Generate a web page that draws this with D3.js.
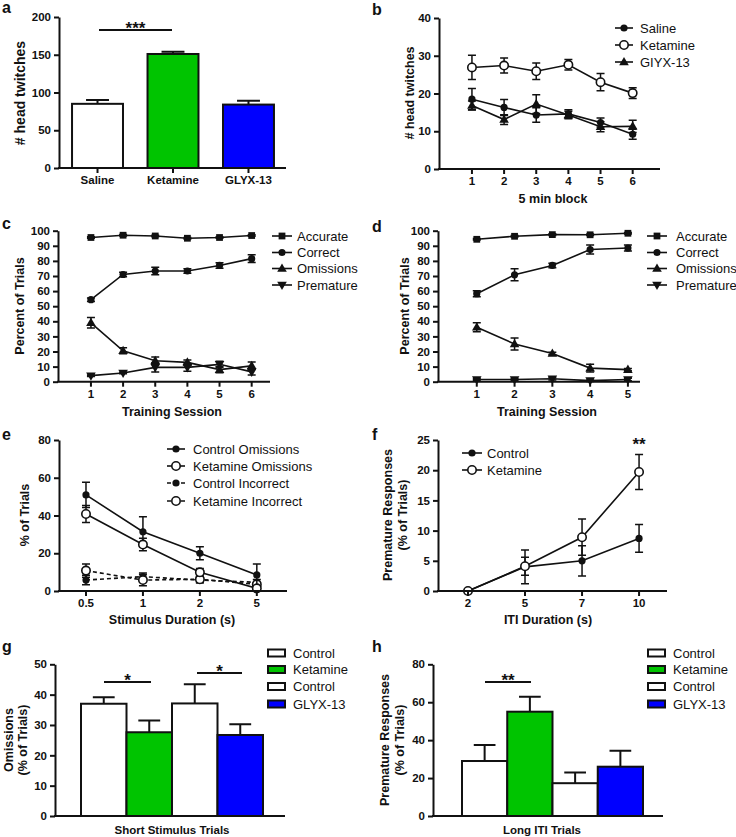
<!DOCTYPE html>
<html><head><meta charset="utf-8">
<script src="https://cdn.jsdelivr.net/npm/d3@7"></script>
<style>html,body{margin:0;padding:0;background:#fff;}svg{display:block;}</style>
</head><body>
<svg id="c" width="736" height="837"></svg>
<script>
// ---------- DATA ----------
// a
const aCategories = ["Saline", "Ketamine", "GLYX-13"];
const aValues = [85, 151, 84];
const aErrors = [5, 3, 5];
// b
const bBlocks = [1, 2, 3, 4, 5, 6];
const bLegend = ["Saline", "Ketamine", "GIYX-13"];
const bSaline = [18.5, 16.3, 14.3, 14.6, 12.3, 9.2];
const bSalineErr = [2.8, 2.1, 1.9, 1.1, 1.2, 1.3];
const bKetamine = [26.9, 27.4, 25.9, 27.6, 23.0, 20.1];
const bKetamineErr = [3.2, 2.0, 2.2, 1.4, 2.3, 1.4];
const bGlyx = [16.8, 13.1, 17.2, 14.3, 11.2, 11.3];
const bGlyxErr = [1.2, 1.3, 2.5, 1.0, 1.3, 1.6];
// c
const cSessions = [1, 2, 3, 4, 5, 6];
const cdLegend = ["Accurate", "Correct", "Omissions", "Premature"];
const cAccurate = [95.5, 97.0, 96.5, 95.0, 95.5, 96.8];
const cAccurateErr = [0.5, 0.5, 0.5, 0.5, 0.5, 0.5];
const cCorrect = [54.3, 71.0, 73.3, 73.3, 77.0, 81.5];
const cCorrectErr = [1.2, 1.5, 2.5, 1.5, 1.8, 2.5];
const cOmissions = [39.0, 20.5, 13.9, 12.8, 8.0, 10.5];
const cOmissionsErr = [3.5, 2.0, 2.5, 1.5, 2.0, 2.5];
const cPremature = [4.0, 5.8, 9.5, 9.5, 11.5, 6.5];
const cPrematureErr = [0.5, 0.5, 3.0, 2.5, 2.0, 2.0];
// d
const dSessions = [1, 2, 3, 4, 5];
const dAccurate = [94.3, 96.3, 97.4, 97.3, 98.3];
const dAccurateErr = [0.5, 0.5, 0.5, 0.5, 0.5];
const dCorrect = [58.3, 70.8, 77.0, 87.5, 88.5];
const dCorrectErr = [2.0, 4.0, 1.5, 3.0, 2.0];
const dOmissions = [36.0, 25.0, 18.7, 9.0, 8.0];
const dOmissionsErr = [3.0, 4.0, 0.8, 2.5, 0.8];
const dPremature = [1.5, 1.5, 2.0, 0.7, 1.5];
const dPrematureErr = [0.5, 0.5, 0.8, 0.5, 0.8];
// e
const eDurations = ["0.5", "1", "2", "5"];
const eLegend = ["Control Omissions", "Ketamine Omissions", "Control Incorrect", "Ketamine  Incorrect"];
const eCtrlOm = [50.9, 31.4, 20.0, 8.5];
const eCtrlOmErr = [6.7, 8.0, 3.5, 5.8];
const eKetOm = [40.8, 24.6, 9.9, 1.4];
const eKetOmErr = [4.5, 3.3, 2.0, 1.0];
const eCtrlInc = [5.8, 7.6, 5.8, 4.6];
const eCtrlIncErr = [2.5, 2.0, 1.5, 1.5];
const eKetInc = [10.8, 5.8, 6.2, 3.5];
const eKetIncErr = [3.5, 3.0, 1.5, 1.0];
// f
const fITI = ["2", "5", "7", "10"];
const fLegend = ["Control", "Ketamine"];
const fCtrl = [0, 4.0, 5.0, 8.7];
const fCtrlErr = [0, 2.8, 2.5, 2.3];
const fKet = [0, 4.1, 8.9, 19.7];
const fKetErr = [0, 1.5, 3.0, 2.9];
// g, h
const ghGroups = ["Control", "Ketamine", "Control", "GLYX-13"];
const gValues = [37.0, 27.6, 37.1, 26.7];
const gErrors = [2.1, 3.9, 6.3, 3.5];
const hValues = [29.0, 55.0, 17.3, 26.0];
const hErrors = [8.4, 7.9, 5.6, 8.4];

// ---------- STYLE ----------
const FONT = "'Liberation Sans', Arial, Helvetica, sans-serif";
const GREEN = "#00c400", BLUE = "#0000ff";
const svg = d3.select("#c").style("font-family", FONT);

function txt(x, y, s, o = {}) {
  const t = svg.append("text").attr("x", x).attr("y", y).text(s)
    .attr("font-size", o.size || 12).attr("font-weight", o.weight || "bold")
    .attr("text-anchor", o.anchor || "middle").attr("fill", "#111");
  if (o.rotate) t.attr("transform", `rotate(-90,${x},${y})`);
  if (o.dy) t.attr("dy", o.dy);
  return t;
}
function yAxis(y, x0, ticks) {
  const g = svg.append("g").attr("transform", `translate(${x0},0)`)
    .call(d3.axisLeft(y).tickValues(ticks).tickSize(5).tickSizeOuter(0).tickPadding(3));
  g.select(".domain").attr("stroke", "#111").attr("stroke-width", 2);
  g.selectAll(".tick line").attr("stroke", "#111").attr("stroke-width", 2);
  g.selectAll(".tick text").attr("font-family", FONT).attr("font-size", 11.5)
    .attr("font-weight", "bold").attr("fill", "#111");
}
function xAxisLine(x0, x1, yb) {
  svg.append("line").attr("x1", x0 - 1).attr("x2", x1).attr("y1", yb).attr("y2", yb)
    .attr("stroke", "#111").attr("stroke-width", 2);
}
function xTicks(x, vals, labels, yb, withLabels = true) {
  vals.forEach((v, i) => {
    svg.append("line").attr("x1", x(v)).attr("x2", x(v)).attr("y1", yb).attr("y2", yb + 5)
      .attr("stroke", "#111").attr("stroke-width", 2);
    if (withLabels) txt(x(v), yb + 16, labels[i], { size: 11.5 });
  });
}
const SYM = {
  circle: d3.symbolCircle, square: d3.symbolSquare, triangle: d3.symbolTriangle
};
function marker(g, cx, cy, kind) {
  if (kind === "fcircle") {
    g.append("circle").attr("cx", cx).attr("cy", cy).attr("r", 3.6).attr("fill", "#111");
  } else if (kind === "ocircle") {
    g.append("circle").attr("cx", cx).attr("cy", cy).attr("r", 4.2).attr("fill", "#fff")
      .attr("stroke", "#111").attr("stroke-width", 1.6);
  } else if (kind === "square") {
    g.append("path").attr("d", d3.symbol(d3.symbolSquare, 46)())
      .attr("transform", `translate(${cx},${cy})`).attr("fill", "#111");
  } else if (kind === "tup") {
    g.append("path").attr("d", d3.symbol(d3.symbolTriangle, 40)())
      .attr("transform", `translate(${cx},${cy + 0.5})`).attr("fill", "#111");
  } else if (kind === "tdown") {
    g.append("path").attr("d", d3.symbol(d3.symbolTriangle, 40)())
      .attr("transform", `translate(${cx},${cy - 0.5}) rotate(180)`).attr("fill", "#111");
  }
}
function series(x, y, xs, vals, errs, kind, dash) {
  const g = svg.append("g");
  const line = d3.line().x((d, i) => x(xs[i])).y(d => y(d));
  g.append("path").attr("d", line(vals)).attr("fill", "none").attr("stroke", "#111")
    .attr("stroke-width", 1.6).attr("stroke-dasharray", dash || null);
  vals.forEach((v, i) => {
    const e = errs[i]; if (!e) return;
    const cx = x(xs[i]);
    g.append("path").attr("d",
      `M${cx},${y(v - e)}V${y(v + e)}M${cx - 4},${y(v + e)}H${cx + 4}M${cx - 4},${y(v - e)}H${cx + 4}`)
      .attr("stroke", "#111").attr("stroke-width", 1.5).attr("fill", "none");
  });
  vals.forEach((v, i) => marker(g, x(xs[i]), y(v), kind));
}
function legendLines(x0, x1, tx, rows, labels, kinds, dashes) {
  labels.forEach((l, i) => {
    const g = svg.append("g");
    g.append("line").attr("x1", x0).attr("x2", x1).attr("y1", rows[i]).attr("y2", rows[i])
      .attr("stroke", "#111").attr("stroke-width", 1.6).attr("stroke-dasharray", dashes ? dashes[i] : null);
    marker(g, (x0 + x1) / 2, rows[i], kinds[i]);
    txt(tx, rows[i], l, { size: 13, weight: "normal", anchor: "start", dy: "0.35em" });
  });
}
function bars(x, y, cats, vals, errs, fills, capFrac) {
  vals.forEach((v, i) => {
    const bx = x(i), bw = x.bandwidth(), cx = bx + bw / 2, cw = bw * capFrac / 2;
    svg.append("path").attr("d", `M${cx},${y(v)}V${y(v + errs[i])}M${cx - cw},${y(v + errs[i])}H${cx + cw}`)
      .attr("stroke", "#111").attr("stroke-width", 2).attr("fill", "none");
    svg.append("rect").attr("x", bx).attr("y", y(v)).attr("width", bw).attr("height", y(0) - y(v))
      .attr("fill", fills[i]).attr("stroke", "#111").attr("stroke-width", 2);
  });
}
function sig(x1, x2, yl, stars, ys) {
  svg.append("line").attr("x1", x1).attr("x2", x2).attr("y1", yl).attr("y2", yl)
    .attr("stroke", "#111").attr("stroke-width", 2);
  txt((x1 + x2) / 2, ys, stars, { size: 17 });
}
function legendBoxes(bx, tx, rows, labels, fills) {
  labels.forEach((l, i) => {
    svg.append("rect").attr("x", bx).attr("y", rows[i] - 3.5).attr("width", 17).attr("height", 7)
      .attr("fill", fills[i]).attr("stroke", "#111").attr("stroke-width", 2);
    txt(tx, rows[i], l, { size: 13, weight: "normal", anchor: "start", dy: "0.35em" });
  });
}
const panel = (s, x, y) => txt(x, y, s, { size: 16, anchor: "start" });

// ---------- PANEL a ----------
{
  const y = d3.scaleLinear().domain([0, 200]).range([168, 17]);
  const x = d3.scaleBand().domain(d3.range(aCategories.length)).range([47.5, 298.5]).padding(0.325);
  bars(x, y, aCategories, aValues, aErrors, ["#fff", GREEN, BLUE], 0.45);
  yAxis(y, 59, [0, 50, 100, 150, 200]);
  xAxisLine(59, 286, 168);
  xTicks(i => x(i) + x.bandwidth() / 2, d3.range(3), aCategories, 168);
  txt(20, 93, "# head twitches", { size: 14, rotate: true, dy: "0.35em" });
  sig(99, 172, 30, "***", 34);
  panel("a", 2, 13);
}
// ---------- PANEL b ----------
{
  const y = d3.scaleLinear().domain([0, 40]).range([169, 18]);
  const x = d3.scaleLinear().domain([0, 6.85]).range([439.8, 660]);
  series(x, y, bBlocks, bSaline, bSalineErr, "fcircle");
  series(x, y, bBlocks, bGlyx, bGlyxErr, "tup");
  series(x, y, bBlocks, bKetamine, bKetamineErr, "ocircle");
  yAxis(y, 439, [0, 10, 20, 30, 40]);
  xAxisLine(439, 660, 169);
  xTicks(x, bBlocks, bBlocks.map(String), 169);
  txt(553, 199, "5 min block", { size: 12.5, dy: "0.35em" });
  txt(410, 93, "# head twitches", { size: 12.5, rotate: true, dy: "0.35em" });
  legendLines(615, 633, 640, [28, 45, 62], bLegend, ["fcircle", "ocircle", "tup"]);
  panel("b", 372, 15);
}
// ---------- PANEL c ----------
{
  const y = d3.scaleLinear().domain([0, 100]).range([381.7, 230.7]);
  const x = d3.scaleLinear().domain([0, 6.57]).range([58.8, 270]);
  series(x, y, cSessions, cAccurate, cAccurateErr, "square");
  series(x, y, cSessions, cCorrect, cCorrectErr, "fcircle");
  series(x, y, cSessions, cOmissions, cOmissionsErr, "tup");
  series(x, y, cSessions, cPremature, cPrematureErr, "tdown");
  yAxis(y, 58, d3.range(0, 101, 10));
  xAxisLine(58, 270, 381.7);
  xTicks(x, cSessions, cSessions.map(String), 381.7);
  txt(172, 412, "Training Session", { size: 12.5, dy: "0.35em" });
  txt(20, 306, "Percent of Trials", { size: 12.5, rotate: true, dy: "0.35em" });
  legendLines(272, 292, 297, [236, 252.5, 268.5, 285], cdLegend, ["square", "fcircle", "tup", "tdown"]);
  panel("c", 2, 229);
}
// ---------- PANEL d ----------
{
  const y = d3.scaleLinear().domain([0, 100]).range([381.7, 230.7]);
  const x = d3.scaleLinear().domain([0, 5.32]).range([439, 640]);
  series(x, y, dSessions, dAccurate, dAccurateErr, "square");
  series(x, y, dSessions, dCorrect, dCorrectErr, "fcircle");
  series(x, y, dSessions, dOmissions, dOmissionsErr, "tup");
  series(x, y, dSessions, dPremature, dPrematureErr, "tdown");
  yAxis(y, 438, d3.range(0, 101, 10));
  xAxisLine(438, 640, 381.7);
  xTicks(x, dSessions, dSessions.map(String), 381.7);
  txt(547, 412, "Training Session", { size: 12.5, dy: "0.35em" });
  txt(405, 306, "Percent of Trials", { size: 12.5, rotate: true, dy: "0.35em" });
  legendLines(647, 667, 676, [236, 252.5, 268.5, 285], cdLegend, ["square", "fcircle", "tup", "tdown"]);
  panel("d", 372, 232);
}
// ---------- PANEL e ----------
{
  const y = d3.scaleLinear().domain([0, 80]).range([591, 440]);
  const x = d3.scaleLinear().domain([-0.474, 3.53]).range([59, 287]);
  const idx = d3.range(eDurations.length);
  series(x, y, idx, eCtrlInc, eCtrlIncErr, "fcircle", "4,3");
  series(x, y, idx, eKetInc, eKetIncErr, "ocircle", "4,3");
  series(x, y, idx, eCtrlOm, eCtrlOmErr, "fcircle");
  series(x, y, idx, eKetOm, eKetOmErr, "ocircle");
  yAxis(y, 59, [0, 20, 40, 60, 80]);
  xAxisLine(59, 287, 591);
  xTicks(x, idx, eDurations, 591);
  txt(172, 620, "Stimulus Duration (s)", { size: 12.5, dy: "0.35em" });
  txt(25, 515, "% of Trials", { size: 12.5, rotate: true, dy: "0.35em" });
  legendLines(167, 185, 193, [449, 466, 483, 501], eLegend,
    ["fcircle", "ocircle", "fcircle", "ocircle"], [null, null, "4,3", "4,3"]);
  panel("e", 2, 440);
}
// ---------- PANEL f ----------
{
  const y = d3.scaleLinear().domain([0, 25]).range([591, 440]);
  const x = d3.scaleLinear().domain([-0.526, 3.49]).range([438, 667]);
  const idx = d3.range(fITI.length);
  series(x, y, idx, fCtrl, fCtrlErr, "fcircle");
  series(x, y, idx, fKet, fKetErr, "ocircle");
  yAxis(y, 438, [0, 5, 10, 15, 20, 25]);
  xAxisLine(438, 667, 591);
  xTicks(x, idx, fITI, 591);
  txt(548, 620, "ITI Duration (s)", { size: 12.5, dy: "0.35em" });
  txt(388, 515, "Premature Responses", { size: 12.5, rotate: true, dy: "0.35em" });
  txt(403, 515, "(% of Trials)", { size: 12.5, rotate: true, dy: "0.35em" });
  legendLines(462, 482, 487, [453, 470], fLegend, ["fcircle", "ocircle"]);
  txt(x(3), 450, "**", { size: 17 });
  panel("f", 372, 440);
}
// ---------- PANEL g ----------
{
  const y = d3.scaleLinear().domain([0, 50]).range([816, 664.3]);
  const x = d3.scaleBand().domain(d3.range(4)).range([81, 263]).padding(0);
  bars(x, y, ghGroups, gValues, gErrors, ["#fff", GREEN, "#fff", BLUE], 0.48);
  yAxis(y, 55, [0, 10, 20, 30, 40, 50]);
  xAxisLine(55, 285, 816);
  txt(172, 830, "Short Stimulus Trials", { size: 11.5, dy: "0.35em" });
  txt(9, 740, "Omissions", { size: 12.5, rotate: true, dy: "0.35em" });
  txt(23, 740, "(% of Trials)", { size: 12.5, rotate: true, dy: "0.35em" });
  sig(104, 151, 682, "*", 686);
  sig(197, 242, 673, "*", 677);
  legendBoxes(268, 293, [653, 669.5, 686.5, 704], ghGroups, ["#fff", GREEN, "#fff", BLUE]);
  panel("g", 2, 652);
}
// ---------- PANEL h ----------
{
  const y = d3.scaleLinear().domain([0, 80]).range([816, 664.3]);
  const x = d3.scaleBand().domain(d3.range(4)).range([462, 643]).padding(0);
  bars(x, y, ghGroups, hValues, hErrors, ["#fff", GREEN, "#fff", BLUE], 0.48);
  yAxis(y, 433, [0, 20, 40, 60, 80]);
  xAxisLine(433, 663, 816);
  txt(542, 830, "Long ITI Trials", { size: 11.5, dy: "0.35em" });
  txt(385, 740, "Premature Responses", { size: 12.5, rotate: true, dy: "0.35em" });
  txt(400, 740, "(% of Trials)", { size: 12.5, rotate: true, dy: "0.35em" });
  sig(485, 531, 682, "**", 686);
  legendBoxes(648, 673, [653, 669.5, 686.5, 704], ghGroups, ["#fff", GREEN, "#fff", BLUE]);
  panel("h", 372, 652);
}
</script>
</body></html>
